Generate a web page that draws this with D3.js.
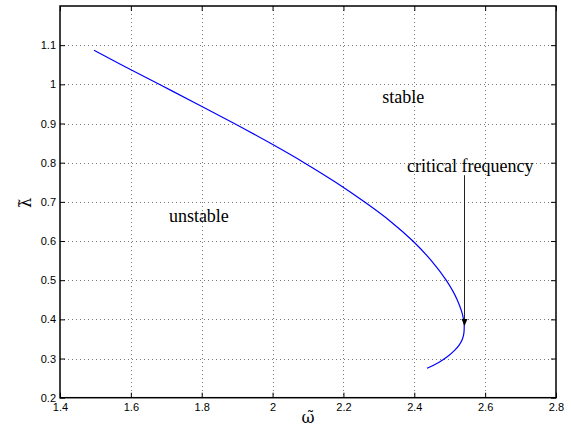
<!DOCTYPE html>
<html>
<head>
<meta charset="utf-8">
<script src="https://cdn.jsdelivr.net/npm/d3@7"></script>
<style>
  html, body { margin: 0; padding: 0; background: #fff; }
  svg { display: block; }
</style>
</head>
<body>
<svg id="chart" width="571" height="430"></svg>
<script>
// Data (lambda decreasing along the curve)
const lambda = [1.087, 1.050, 1.000, 0.950, 0.900, 0.850, 0.800, 0.750, 0.700, 0.650, 0.600, 0.550, 0.500, 0.450, 0.400, 0.381, 0.365, 0.350, 0.335, 0.320, 0.305, 0.290, 0.275];
const omega  = [1.496, 1.573, 1.680, 1.787, 1.892, 1.993, 2.089, 2.178, 2.259, 2.333, 2.396, 2.448, 2.490, 2.521, 2.539, 2.541, 2.540, 2.536, 2.527, 2.513, 2.494, 2.469, 2.436];
const xTicks = [1.4, 1.6, 1.8, 2.0, 2.2, 2.4, 2.6, 2.8];
const yTicks = [0.2, 0.3, 0.4, 0.5, 0.6, 0.7, 0.8, 0.9, 1.0, 1.1];
const xDomain = [1.4, 2.8];
const yDomain = [0.2, 1.2];
const labels = [
  { text: "stable", x: 2.369, y: 0.953 },
  { text: "unstable", x: 1.792, y: 0.649 }
];
const arrow = { text: "critical frequency", x: 2.541, yText: 0.776, yFrom: 0.768, yTo: 0.383 };

const svg = d3.select("#chart");
const L = 60, R = 556, T = 6, B = 397.7;
const x = d3.scaleLinear().domain(xDomain).range([L, R]);
const y = d3.scaleLinear().domain(yDomain).range([B, T]);

// grid
const grid = svg.append("g").attr("stroke", "#777").attr("stroke-width", 1).attr("stroke-dasharray", "1,3");
grid.selectAll(".vg").data(xTicks.slice(1, -1)).join("line")
  .attr("x1", d => Math.round(x(d)) + 0.5).attr("x2", d => Math.round(x(d)) + 0.5)
  .attr("y1", T).attr("y2", B);
grid.selectAll(".hg").data(yTicks.slice(1)).join("line")
  .attr("y1", d => Math.round(y(d)) + 0.5).attr("y2", d => Math.round(y(d)) + 0.5)
  .attr("x1", L).attr("x2", R);

// axes
const fmt = d => d3.format("")(+d.toFixed(1));
const tickStyle = g => {
  g.select(".domain").remove();
  g.selectAll(".tick line").attr("stroke", "#000").attr("stroke-width", 1);
  g.selectAll(".tick text").attr("font-family", "Liberation Sans, Arial, sans-serif").attr("font-size", 11).attr("fill", "#000");
};
svg.append("g").attr("transform", `translate(0,${B})`)
  .call(d3.axisBottom(x).tickValues(xTicks).tickFormat(fmt).tickSize(-5).tickPadding(6))
  .call(tickStyle);
svg.append("g").attr("transform", `translate(0,${T})`)
  .call(d3.axisTop(x).tickValues(xTicks).tickFormat("").tickSize(-5))
  .call(tickStyle);
svg.append("g").attr("transform", `translate(${L},0)`)
  .call(d3.axisLeft(y).tickValues(yTicks).tickFormat(fmt).tickSize(-5).tickPadding(4))
  .call(tickStyle);
svg.append("g").attr("transform", `translate(${R},0)`)
  .call(d3.axisRight(y).tickValues(yTicks).tickFormat("").tickSize(-5))
  .call(tickStyle);

// box
svg.append("rect").attr("x", L).attr("y", T).attr("width", R - L).attr("height", B - T)
  .attr("fill", "none").attr("stroke", "#000").attr("stroke-width", 1.5);

// curve: omega is a smooth function of lambda, so interpolate monotonically in y
const line = d3.line().x((d, i) => x(omega[i])).y((d, i) => y(lambda[i])).curve(d3.curveMonotoneY);
svg.append("path").datum(omega).attr("d", line)
  .attr("fill", "none").attr("stroke", "#0000ff").attr("stroke-width", 1.2);

// text labels
const serif = "Liberation Serif, Times New Roman, serif";
svg.selectAll(".lbl").data(labels).join("text")
  .attr("x", d => x(d.x)).attr("y", d => y(d.y))
  .attr("text-anchor", "middle")
  .attr("font-family", serif).attr("font-size", 18).attr("fill", "#000")
  .text(d => d.text);

// arrow
svg.append("text").attr("x", x(arrow.x) + 6).attr("y", y(arrow.yText))
  .attr("text-anchor", "middle").attr("font-family", serif).attr("font-size", 18).attr("fill", "#000")
  .text(arrow.text);
const ax = Math.round(x(arrow.x)) + 0.5, ay1 = y(arrow.yFrom), ay2 = y(arrow.yTo);
svg.append("line").attr("x1", ax).attr("x2", ax).attr("y1", ay1).attr("y2", ay2 - 6)
  .attr("stroke", "#222").attr("stroke-width", 1);
svg.append("path").attr("d", `M${ax - 3},${ay2 - 7} L${ax + 3},${ay2 - 7} L${ax},${ay2} Z`).attr("fill", "#000");

// axis labels (letter + combining tilde)
const mathFont = "DejaVu Serif, serif";
svg.append("text").attr("x", 308).attr("y", 423).attr("text-anchor", "middle")
  .attr("font-family", mathFont).attr("font-size", 16).text("\u03C9\u0303");
svg.append("text").attr("transform", "translate(31,203) rotate(-90)").attr("text-anchor", "middle")
  .attr("font-family", mathFont).attr("font-size", 16).text("\u03BB\u0303");
</script>
</body>
</html>
